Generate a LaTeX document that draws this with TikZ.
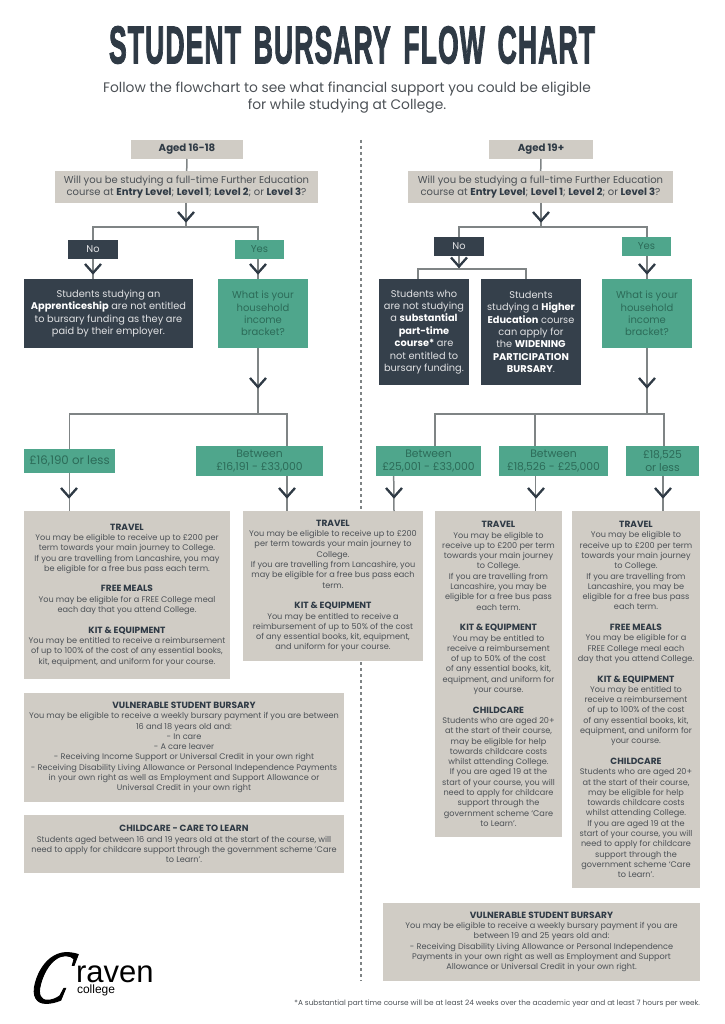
\documentclass[tikz,border=0pt]{standalone}
\usepackage{fontspec}
\usepackage{graphicx}
\setmainfont{Poppins}
\newfontfamily\arialf{Liberation Sans}
\newfontfamily\titlef[LetterSpace=4,FakeBold=2.5,WordSpace=1.5]{Liberation Sans Bold}
\newfontfamily\logof[FakeSlant=0.35,FakeBold=1.5]{Liberation Serif Italic}
\definecolor{beige}{HTML}{D0CCC5}
\definecolor{darkb}{HTML}{35404B}
\definecolor{greenb}{HTML}{4FA68C}
\definecolor{greent}{HTML}{2C6B58}
\definecolor{bodyt}{HTML}{4C5156}
\definecolor{hdt}{HTML}{2F3A45}
\definecolor{linec}{HTML}{7F8485}
\newcommand\hd[1]{{\color{hdt}\bfseries #1}}
\newcommand\hh[1]{{\color{hdt}\fontsize{9}{10.3}\selectfont\bfseries #1}}
\newcommand\wh[1]{{\color{white}\bfseries #1}}
\newcommand\bx[7]{\node[#6,minimum width={(#4-#2)*1pt},minimum height={(#5-#3)*1pt}] (#1) at ({(#2+#4)/2},{(#3+#5)/2}) {#7};}
\tikzset{
  anybox/.style={inner sep=0pt,outer sep=0pt,align=center},
  beigebox/.style={anybox,fill=beige,text=bodyt,font=\fontsize{8.15}{10.3}\selectfont},
  agebox/.style={anybox,fill=beige,text=hdt,font=\fontsize{10.2}{12}\selectfont\bfseries},
  qbox/.style={anybox,fill=beige,text=bodyt,font=\fontsize{10}{12}\selectfont},
  nobox/.style={anybox,fill=darkb,text=white!85!darkb,font=\fontsize{9.8}{12.4}\selectfont},
  yesbox/.style={anybox,fill=greenb,text=greent,font=\fontsize{10}{12.4}\selectfont},
  moneybox/.style={anybox,fill=greenb,text=greent,font=\fontsize{10.8}{12.4}\selectfont},
  conn/.style={draw=linec,line width=1.5pt},
  chev/.pic={\draw[hdt,line width=2.3pt,miter limit=10] (-8,-5)--(0,4)--(8,-5);},
}
\begin{document}
\begin{tikzpicture}[x=1pt,y=-1pt]
\useasboundingbox (0,0) rectangle (724,1024);
\coordinate (dashT) at (361,140);
\coordinate (dashB) at (361,981);
\draw[linec,line width=1.3pt,dash pattern=on 3pt off 3pt] (dashT) -- (dashB);
\node[anybox,text=hdt] (title) at (352,45) {\resizebox{486pt}{37pt}{\titlef STUDENT BURSARY FLOW CHART}};
\node[anybox,text=bodyt,font=\fontsize{13.8}{17}\selectfont] (sub) at (347,98) {Follow the flowchart to see what financial support you could be eligible\\for while studying at College.};
% left
\bx{ageA}{131}{140}{243}{159}{agebox}{Aged 16-18}
\bx{qA}{55}{171}{318}{203}{qbox}{Will you be studying a full-time Further Education\\course at \hd{Entry Level}; \hd{Level 1}; \hd{Level 2}; or \hd{Level 3}?}
\bx{noA}{68}{240}{118}{259}{nobox}{No}
\bx{yesA}{235}{240}{284}{259}{yesbox}{Yes}
\bx{appr}{24}{279}{193}{348}{nobox}{Students studying an\\\wh{Apprenticeship} are not entitled\\to bursary funding as they are\\paid by their employer.}
\bx{incA}{218}{279}{308}{348}{yesbox}{What is your\\household\\income\\bracket?}
\bx{lowA}{24}{449}{115}{473}{moneybox,font=\fontsize{11.8}{12.4}\selectfont}{£16,190 or less}
\bx{midA}{196}{446}{323}{476}{moneybox}{Between\\£16,191 - £33,000}
% right
\bx{ageB}{489}{140}{593}{159}{agebox}{Aged 19+}
\bx{qB}{408}{171}{673}{203}{qbox}{Will you be studying a full-time Further Education\\course at \hd{Entry Level}; \hd{Level 1}; \hd{Level 2}; or \hd{Level 3}?}
\bx{noB}{434}{237}{484}{256}{nobox}{No}
\bx{yesB}{622}{237}{671}{256}{yesbox}{Yes}
\bx{subst}{379}{279}{469}{385}{nobox}{Students who\\are not studying\\a \wh{substantial}\\\wh{part-time}\\\wh{course*} are\\not entitled to\\bursary funding.}
\bx{he}{481}{279}{581}{385}{nobox}{Students\\studying a \wh{Higher}\\\wh{Education} course\\can apply for\\the \wh{WIDENING}\\\wh{PARTICIPATION}\\\wh{BURSARY}.}
\bx{incB}{602}{279}{692}{348}{yesbox}{What is your\\household\\income\\bracket?}
\bx{hiB}{376}{446}{481}{476}{moneybox}{Between\\£25,001 - £33,000}
\bx{midB}{499}{446}{608}{476}{moneybox}{Between\\£18,526 - £25,000}
\bx{lowB}{626}{446}{699}{476}{moneybox}{£18,525\\or less}
% info boxes
\bx{tA}{24}{511}{230}{679}{beigebox}{\hh{TRAVEL}\\You may be eligible to receive up to £200 per\\term towards your main journey to College.\\If you are travelling from Lancashire, you may\\be eligible for a free bus pass each term.\\[10.3pt]\hh{FREE MEALS}\\You may be eligible for a FREE College meal\\each day that you attend College.\\[10.3pt]\hh{KIT \& EQUIPMENT}\\You may be entitled to receive a reimbursement\\of up to 100\% of the cost of any essential books,\\kit, equipment, and uniform for your course.}
\bx{tB}{243}{511}{423}{661}{beigebox}{\hh{TRAVEL}\\You may be eligible to receive up to £200\\per term towards your main journey to\\College.\\If you are travelling from Lancashire, you\\may be eligible for a free bus pass each\\term.\\[10.3pt]\hh{KIT \& EQUIPMENT}\\You may be entitled to receive a\\reimbursement of up to 50\% of the cost\\of any essential books, kit, equipment,\\and uniform for your course.}
\bx{tC}{435}{511}{562}{837}{beigebox}{\hh{TRAVEL}\\You may be eligible to\\receive up to £200 per term\\towards your main journey\\to College.\\If you are travelling from\\Lancashire, you may be\\eligible for a free bus pass\\each term.\\[10.3pt]\hh{KIT \& EQUIPMENT}\\You may be entitled to\\receive a reimbursement\\of up to 50\% of the cost\\of any essential books, kit,\\equipment, and uniform for\\your course.\\[10.3pt]\hh{CHILDCARE}\\Students who are aged 20+\\at the start of their course,\\may be eligible for help\\towards childcare costs\\whilst attending College.\\If you are aged 19 at the\\start of your course, you will\\need to apply for childcare\\support through the\\government scheme ‘Care\\to Learn’.}
\bx{tD}{572}{511}{700}{888}{beigebox}{\hh{TRAVEL}\\You may be eligible to\\receive up to £200 per term\\towards your main journey\\to College.\\If you are travelling from\\Lancashire, you may be\\eligible for a free bus pass\\each term.\\[10.3pt]\hh{FREE MEALS}\\You may be eligible for a\\FREE College meal each\\day that you attend College.\\[10.3pt]\hh{KIT \& EQUIPMENT}\\You may be entitled to\\receive a reimbursement\\of up to 100\% of the cost\\of any essential books, kit,\\equipment, and uniform for\\your course.\\[10.3pt]\hh{CHILDCARE}\\Students who are aged 20+\\at the start of their course,\\may be eligible for help\\towards childcare costs\\whilst attending College.\\If you are aged 19 at the\\start of your course, you will\\need to apply for childcare\\support through the\\government scheme ‘Care\\to Learn’.}
\bx{vA}{24}{693}{344}{802}{beigebox}{\hh{VULNERABLE STUDENT BURSARY}\\You may be eligible to receive a weekly bursary payment if you are between\\16 and 18 years old and:\\- In care\\- A care leaver\\- Receiving Income Support or Universal Credit in your own right\\- Receiving Disability Living Allowance or Personal Independence Payments\\in your own right as well as Employment and Support Allowance or\\Universal Credit in your own right}
\bx{cA}{24}{815}{344}{873}{beigebox}{\hh{CHILDCARE - CARE TO LEARN}\\Students aged between 16 and 19 years old at the start of the course, will\\need to apply for childcare support through the government scheme ‘Care\\to Learn’.}
\bx{vB}{383}{903}{700}{981}{beigebox}{\hh{VULNERABLE STUDENT BURSARY}\\You may be eligible to receive a weekly bursary payment if you are\\between 19 and 25 years old and:\\- Receiving Disability Living Allowance or Personal Independence\\Payments in your own right as well as Employment and Support\\Allowance or Universal Credit in your own right.}
% junctions
\coordinate (jA) at (186,227);
\coordinate (jC) at (258,414);
\coordinate (jB) at (541,227);
\coordinate (jN) at (459,269);
\coordinate (jD) at (647,414);
% connectors left
\draw[conn] (ageA) -- (qA);
\draw[conn] (qA.south -| jA) -- (jA);
\draw[conn] (noA.north) |- (jA);
\draw[conn] ([xshift=-1.5pt]yesA.north) |- (jA);
\draw[conn] (noA.south) -- (noA.south |- appr.north);
\draw[conn] ([xshift=-1.5pt]yesA.south) -- ([xshift=-5pt]incA.north);
\draw[conn] ([xshift=-5pt]incA.south) -- (jC);
\draw[conn] (lowA.north) |- (jC);
\draw[conn] ([xshift=27.5pt]midA.north) |- (jC);
\draw[conn] (lowA.south) -- (lowA.south |- tA.north);
\draw[conn] ([xshift=27.5pt]midA.south) -- ([xshift=-46pt]tB.north);
% connectors right
\draw[conn] (ageB) -- (qB);
\draw[conn] (qB.south -| jB) -- (jB);
\draw[conn] (noB.north) |- (jB);
\draw[conn] ([xshift=0.5pt]yesB.north) |- (jB);
\draw[conn] (noB.south) -- (jN);
\draw[conn] ([xshift=-6pt]subst.north) |- (jN);
\draw[conn] ([xshift=-5pt]he.north) |- (jN);
\draw[conn] ([xshift=0.5pt]yesB.south) -- (incB.north);
\draw[conn] (incB.south) -- (jD);
\draw[conn] ([xshift=6.5pt]hiB.north) |- (jD);
\draw[conn] ([xshift=-18.5pt]midB.north) |- (jD);
\draw[conn] ([xshift=1.5pt]lowB.north) |- (jD);
\draw[conn] ([xshift=-34.8pt]hiB.south) -- ([xshift=61pt]tB.north);
\draw[conn] ([xshift=-18pt]midB.south) -- ([xshift=37pt]tC.north);
\draw[conn] ([xshift=0.5pt]lowB.south) -- ([xshift=27pt]tD.north);
% chevrons
\pic at (186,217) {chev};
\pic at (93,269) {chev};
\pic at (258,269) {chev};
\pic at (258,383) {chev};
\pic at (69,493) {chev};
\pic at (287,493) {chev};
\pic at (541,217) {chev};
\pic at (459,262.5) {chev};
\pic at (647,269) {chev};
\pic at (647,383) {chev};
\pic at (394,493) {chev};
\pic at (536,493) {chev};
\pic at (663,493) {chev};
% logo
\node[anybox,text=black] (logoC) at (46,978) {\resizebox{38pt}{50pt}{\logof C}};
\node[anybox,text=black,anchor=base west] (logoR) at (76,982) {\arialf\fontsize{31}{31}\selectfont raven};
\node[anybox,text=black,anchor=base west] (logoS) at (77,993) {\arialf\fontsize{12}{12}\selectfont college};
% footnote
\node[anybox,text=bodyt,anchor=east,font=\fontsize{7.35}{8}\selectfont] (foot) at (700,1004) {*A substantial part time course will be at least 24 weeks over the academic year and at least 7 hours per week.};
\end{tikzpicture}
\end{document}
